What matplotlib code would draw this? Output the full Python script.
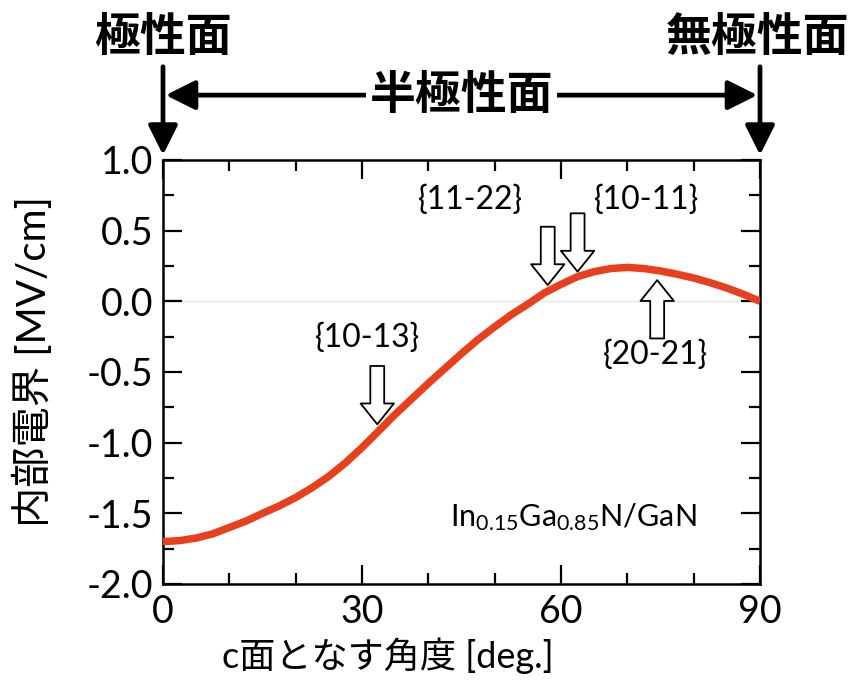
import matplotlib
matplotlib.use("Agg")
import matplotlib.pyplot as plt

plt.rcParams['font.family'] = ['Lato', 'Noto Sans CJK JP', 'DejaVu Sans']
plt.rcParams['axes.unicode_minus'] = False
plt.rcParams['mathtext.fontset'] = 'custom'
plt.rcParams['mathtext.rm'] = 'Lato'

# Internal electric field vs. inclination angle from the c-plane
angle_deg = [0, 2.5, 5, 7.5, 10, 12.5, 15, 17.5, 20, 22.5, 25, 27.5, 30, 32.5, 35, 37.5,
             40, 42.5, 45, 47.5, 50, 52.5, 55, 57.5, 60, 62.5, 65, 67.5, 70, 72.5, 75,
             77.5, 80, 82.5, 85, 87.5, 90]
field_mv_cm = [-1.700, -1.693, -1.675, -1.645, -1.600, -1.555, -1.500, -1.448, -1.388,
               -1.318, -1.238, -1.143, -1.035, -0.918, -0.800, -0.690, -0.580, -0.475,
               -0.370, -0.270, -0.180, -0.095, -0.020, 0.060, 0.120, 0.175, 0.210,
               0.232, 0.240, 0.232, 0.215, 0.192, 0.165, 0.132, 0.094, 0.050, 0.000]

# Semipolar planes marked on the curve: (label, angle, field at arrow tip, direction)
plane_labels = ['{10-13}', '{11-22}', '{10-11}', '{20-21}']
plane_angles = [32.3, 58.0, 62.5, 74.5]
plane_fields = [-0.87, 0.115, 0.21, 0.15]
plane_dirs = ['down', 'down', 'down', 'up']
label_pos = [(30.8, -0.26), (46.3, 0.72), (72.9, 0.72), (74.2, -0.38)]

xticks = [0, 30, 60, 90]
yticks = [-2.0, -1.5, -1.0, -0.5, 0.0, 0.5, 1.0]

fig = plt.figure(figsize=(8.55, 6.86), dpi=100)
ax = fig.add_axes([163 / 855, 1 - 584 / 686, 597 / 855, 424 / 686])

ax.axhline(0, color='#e3ead9', lw=1.0, zorder=1)
ax.plot(angle_deg, field_mv_cm, color='#e8401c', lw=5.4, solid_capstyle='butt',
        solid_joinstyle='round', zorder=3)

ax.set_xlim(0, 90)
ax.set_ylim(-2.0, 1.0)
ax.set_xticks(xticks)
ax.set_xticks(range(0, 91, 10), minor=True)
ax.set_yticks(yticks)
ax.set_yticks([-1.75, -1.25, -0.75, -0.25, 0.25, 0.75], minor=True)
ax.set_xticklabels([str(v) for v in xticks])
ax.set_yticklabels([f'{v:.1f}' for v in yticks])
ax.tick_params(which='both', direction='in', top=True, right=True, width=1.6, color='black')
ax.tick_params(which='major', length=14, labelsize=27, pad=7)
ax.tick_params(which='minor', length=8)
for s in ax.spines.values():
    s.set_linewidth(1.8)

ax.set_xlabel('c面となす角度 [deg.]', fontsize=26)
ax.xaxis.set_label_coords((388 - 163) / 597, -0.125)
ax.set_ylabel('内部電界 [MV/cm]', fontsize=29)
ax.yaxis.set_label_coords(-0.185, 0.525)

# Hollow block arrows pointing at each plane
for name, a, f, d, (lx, ly) in zip(plane_labels, plane_angles, plane_fields, plane_dirs, label_pos):
    off = 42 if d == 'down' else -42
    ax.annotate('', xy=(a, f), xycoords='data',
                xytext=(0, off), textcoords='offset points',
                arrowprops=dict(arrowstyle='simple,head_length=15,head_width=24,tail_width=10',
                                mutation_scale=1, fc='white', ec='black', lw=1.3,
                                shrinkA=0, shrinkB=0), zorder=4)
    ax.text(lx, ly, name, fontsize=23, ha='center', va='center', zorder=5)

ax.text(61.8, -1.53, r'$\mathregular{In_{0.15}Ga_{0.85}N/GaN}$', fontsize=22,
        ha='center', va='center')

# Polar / semipolar / nonpolar header
trans = ax.get_xaxis_transform()
for x in (0, 90):
    ax.annotate('', xy=(x, 1.012), xycoords=trans, xytext=(x, 1.22), textcoords=trans,
                arrowprops=dict(arrowstyle='-|>,head_length=0.9,head_width=0.45',
                                mutation_scale=20, lw=3.4, color='black',
                                shrinkA=0, shrinkB=0), annotation_clip=False)
ax.annotate('', xy=(0.4, 1.153), xycoords=trans, xytext=(89.6, 1.153), textcoords=trans,
            arrowprops=dict(arrowstyle='<|-|>,head_length=0.9,head_width=0.45',
                            mutation_scale=20, lw=3.4, color='black',
                            shrinkA=0, shrinkB=0), annotation_clip=False)
ax.text(45, 1.153, '半極性面', transform=trans, fontsize=33, fontweight='bold',
        ha='center', va='center', bbox=dict(fc='white', ec='none', pad=3))
ax.text(0, 1.29, '極性面', transform=trans, fontsize=33, fontweight='bold',
        ha='center', va='center')
ax.text(89.7, 1.29, '無極性面', transform=trans, fontsize=33, fontweight='bold',
        ha='center', va='center')

fig.savefig('out.png', dpi=100)
